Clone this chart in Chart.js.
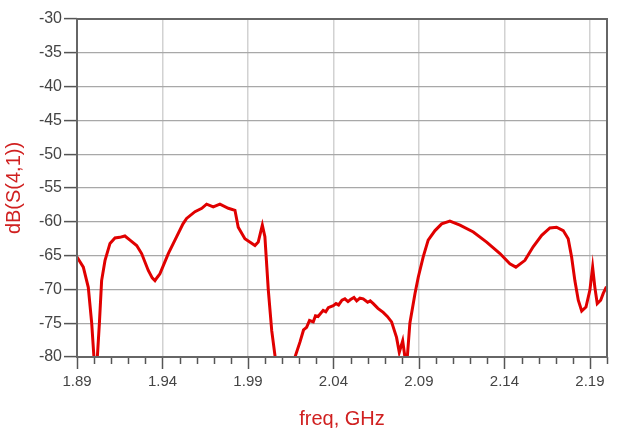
<!DOCTYPE html>
<html>
<head>
<meta charset="utf-8">
<script src="https://cdn.jsdelivr.net/npm/chart.js@4.4.0/dist/chart.umd.min.js"></script>
<style>
  html, body { margin: 0; padding: 0; background: #fff; }
  #wrap { width: 624px; height: 428px; }
</style>
</head>
<body>
<div id="wrap"><canvas id="s41"></canvas></div>
<script>
// Datos
const freqGHz = [
  1.8900, 1.8937, 1.8966, 1.8986, 1.8999, 1.9008, 1.9019, 1.9031, 1.9044, 1.9064,
  1.9093, 1.9122, 1.9150, 1.9180, 1.9210, 1.9249, 1.9278, 1.9317, 1.9340, 1.9356,
  1.9370, 1.9385, 1.9434, 1.9483, 1.9520, 1.9541, 1.9590, 1.9630, 1.9658, 1.9697,
  1.9736, 1.9785, 1.9824, 1.9843, 1.9882, 1.9941, 1.9960, 1.9984, 1.9999, 2.0019,
  2.0039, 2.0058, 2.0090, 2.0140, 2.0175, 2.0204, 2.0225, 2.0243, 2.0260, 2.0282,
  2.0295, 2.0310, 2.0340, 2.0355, 2.0370, 2.0399, 2.0415, 2.0430, 2.0450, 2.0467,
  2.0485, 2.0500, 2.0520, 2.0536, 2.0555, 2.0574, 2.0600, 2.0615, 2.0633, 2.0660,
  2.0691, 2.0715, 2.0740, 2.0769, 2.0785, 2.0805, 2.0818, 2.0825, 2.0832, 2.0847,
  2.0877, 2.0896, 2.0925, 2.0954, 2.0994, 2.1033, 2.1081, 2.1140, 2.1218, 2.1296,
  2.1374, 2.1432, 2.1467, 2.1520, 2.1568, 2.1618, 2.1666, 2.1705, 2.1744, 2.1773,
  2.1793, 2.1812, 2.1832, 2.1852, 2.1877, 2.1900, 2.1916, 2.1929, 2.1943, 2.1963,
  2.1978, 2.1997
];
const s41dB = [
  -65.2, -66.7, -69.7, -75.0, -80.0, -86.0, -80.0, -75.0, -68.7, -65.7,
  -63.2, -62.4, -62.3, -62.1, -62.7, -63.5, -64.7, -67.2, -68.3, -68.7,
  -68.2, -67.7, -64.7, -62.2, -60.3, -59.5, -58.5, -58.0, -57.4, -57.8,
  -57.4, -58.0, -58.3, -60.8, -62.5, -63.5, -63.0, -60.5, -62.2, -70.1,
  -76.1, -79.8, -86.0, -86.0, -80.0, -77.8, -76.0, -75.6, -74.6, -74.8,
  -73.9, -74.0, -73.1, -73.3, -72.7, -72.4, -72.1, -72.3, -71.6, -71.4,
  -71.8, -71.5, -71.2, -71.7, -71.3, -71.4, -71.9, -71.7, -72.1, -72.8,
  -73.4, -74.0, -74.8, -77.1, -79.3, -77.6, -80.0, -83.0, -80.0, -75.0,
  -70.6, -68.2, -65.2, -62.7, -61.3, -60.3, -59.9, -60.5, -61.5, -63.0,
  -64.7, -66.2, -66.7, -65.7, -63.7, -62.0, -60.9, -60.8, -61.3, -62.5,
  -65.2, -68.7, -71.6, -73.2, -72.6, -70.1, -66.7, -69.7, -72.1, -71.6,
  -70.6, -69.6
];
const xTickLabels = ["1.89", "1.94", "1.99", "2.04", "2.09", "2.14", "2.19"];
const yTickValues = [-30, -35, -40, -45, -50, -55, -60, -65, -70, -75, -80];

const puntos = freqGHz.map((f, i) => ({ x: f, y: s41dB[i] }));
const fuente = "'Liberation Sans', Arial, sans-serif";

// Marco y marcas del eje x (menores cada 0.01 GHz)
const marcoPlugin = {
  id: "marco",
  afterDraw(chart) {
    const { ctx, chartArea: a, scales } = chart;
    const xs = scales.x;
    ctx.save();
    ctx.strokeStyle = "#555";
    ctx.lineWidth = 1.5;
    for (let k = 0; k <= 31; k++) {
      const v = 1.89 + k * 0.01;
      const px = Math.round(xs.getPixelForValue(v)) + 0.5;
      const largo = k % 5 === 0 ? 12 : 7;
      ctx.beginPath();
      ctx.moveTo(px, a.bottom);
      ctx.lineTo(px, a.bottom + largo);
      ctx.stroke();
    }
    ctx.strokeStyle = "#666";
    ctx.lineWidth = 2;
    ctx.strokeRect(a.left, a.top, a.right - a.left, a.bottom - a.top);
    ctx.restore();
  }
};

const ctx = document.querySelector("#s41").getContext("2d");
new Chart(ctx, {
  type: "line",
  data: {
    datasets: [
      {
        label: "dB(S(4,1))",
        data: puntos,
        borderColor: "#e00000",
        borderWidth: 3,
        pointRadius: 0,
        fill: false,
        tension: 0,
      },
    ],
  },
  options: {
    responsive: true,
    maintainAspectRatio: false,
    animation: false,
    layout: { padding: { left: 0, right: 17, top: 19, bottom: 0 } },
    plugins: { legend: { display: false }, tooltip: { enabled: false } },
    scales: {
      x: {
        type: "linear",
        min: 1.89,
        max: 2.2,
        afterBuildTicks: (scale) => {
          scale.ticks = xTickLabels.map((t) => ({ value: parseFloat(t) }));
        },
        afterFit: (scale) => { scale.height = 71; },
        ticks: {
          callback: (v) => v.toFixed(2),
          color: "#444",
          font: { family: fuente, size: 15 },
          padding: 16,
          maxRotation: 0,
        },
        grid: { color: "#d2d2d2", lineWidth: 1.5, drawTicks: false },
        border: { display: false },
        title: {
          display: true,
          text: "freq, GHz",
          color: "#d02020",
          font: { family: fuente, size: 20 },
          padding: { top: 6, bottom: -3 },
        },
      },
      y: {
        min: -80,
        max: -30,
        afterBuildTicks: (scale) => {
          scale.ticks = yTickValues.map((v) => ({ value: v }));
        },
        afterFit: (scale) => { scale.width = 77; },
        ticks: {
          color: "#444",
          font: { family: fuente, size: 16 },
          padding: 2,
        },
        grid: { color: "#a8a8a8", lineWidth: 1.2, tickLength: 13, tickColor: "#555", tickWidth: 1.5 },
        border: { display: false },
        title: {
          display: true,
          text: "dB(S(4,1))",
          color: "#d02020",
          font: { family: fuente, size: 20 },
          padding: { top: 2, bottom: 0 },
        },
      },
    },
  },
  plugins: [marcoPlugin],
});
</script>
</body>
</html>
